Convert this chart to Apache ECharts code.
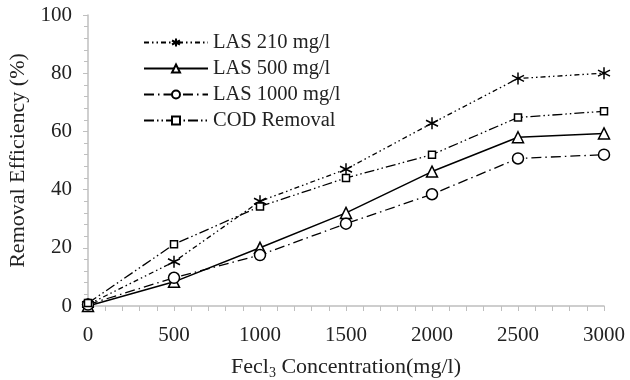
<!DOCTYPE html>
<html>
<head>
<meta charset="utf-8">
<script src="https://cdn.jsdelivr.net/npm/echarts@6/dist/echarts.min.js"></script>
<style>html,body{margin:0;padding:0;background:#fff}#c{width:630px;height:380px}</style>
</head>
<body>
<div id="c"></div>
<script>
const concentrations = [0, 500, 1000, 1500, 2000, 2500, 3000];
const seriesNames = ['LAS 210 mg/l', 'LAS 500 mg/l', 'LAS 1000 mg/l', 'COD Removal'];
const las210 = [0.5, 15.2, 36, 47, 62.8, 78.2, 80];
const las500 = [0, 8.3, 20, 32, 46.2, 58, 59.3];
const las1000 = [0.5, 9.7, 17.5, 28.3, 38.4, 50.7, 52];
const codRemoval = [1, 21.2, 34.2, 44, 52, 64.8, 66.9];
const xTicks = [0, 500, 1000, 1500, 2000, 2500, 3000];
const yTicks = [0, 20, 40, 60, 80, 100];

const font = 'Liberation Serif';
const asterisk = 'path://M0,-6L0,6M-5.2,-3L5.2,3M-5.2,3L5.2,-3';

function mk(name, data, symbol, size, dash, width) {
  return {
    name: name, type: 'line',
    data: concentrations.map((x, i) => [x, data[i]]),
    symbol: symbol, symbolSize: size,
    lineStyle: {color: '#000', width: width, type: dash},
    itemStyle: {color: '#fff', borderColor: '#000', borderWidth: 1.5},
    emphasis: {disabled: true}
  };
}

const chart = echarts.init(document.getElementById('c'));
chart.setOption({
  animation: false,
  backgroundColor: '#fff',
  textStyle: {fontFamily: font},
  grid: {left: 88, right: 26, top: 15, bottom: 74, containLabel: false, outerBoundsMode: 'none'},
  legend: {
    orient: 'vertical', left: 138, top: 26,
    itemWidth: 64, itemHeight: 10, itemGap: 3,
    textStyle: {fontFamily: font, fontSize: 20.5, color: '#222', lineHeight: 23},
    data: seriesNames
  },
  xAxis: {
    type: 'value', min: 0, max: 3000, interval: 500,
    name: 'Fecl{sub|3} Concentration(mg/l)', nameLocation: 'middle', nameGap: 48,
    nameTextStyle: {fontFamily: font, fontSize: 22, color: '#222',
      rich: {sub: {fontFamily: font, fontSize: 14, color: '#222', padding: [12, 0, 0, 0]}}},
    axisLine: {show: true, lineStyle: {color: '#bfbfbf', width: 1.5}},
    axisTick: {show: true, length: 5, lineStyle: {color: '#bfbfbf'}},
    minorTick: {show: true, splitNumber: 5, length: 5, lineStyle: {color: '#bfbfbf'}},
    axisLabel: {fontFamily: font, fontSize: 21, color: '#222', margin: 19,
      formatter: v => xTicks.includes(v) ? String(v) : ''},
    splitLine: {show: false}
  },
  yAxis: {
    type: 'value', min: 0, max: 100, interval: 20,
    name: 'Removal Efficiency (%)', nameLocation: 'middle', nameGap: 57,
    nameTextStyle: {fontFamily: font, fontSize: 22, color: '#222'},
    axisLine: {show: true, lineStyle: {color: '#bfbfbf', width: 1.5}},
    axisTick: {show: true, length: 5, lineStyle: {color: '#bfbfbf'}},
    minorTick: {show: true, splitNumber: 5, length: 4, lineStyle: {color: '#bfbfbf'}},
    axisLabel: {fontFamily: font, fontSize: 21, color: '#222', margin: 16,
      formatter: v => yTicks.includes(v) ? String(v) : ''},
    splitLine: {show: false}
  },
  series: [
    mk(seriesNames[0], las210, asterisk, 12, [5, 3, 1.5, 3, 1.5, 3], 1.3),
    mk(seriesNames[1], las500, 'triangle', 11, 'solid', 1.5),
    mk(seriesNames[2], las1000, 'circle', 11, [10, 4, 1.5, 4], 1.3),
    mk(seriesNames[3], codRemoval, 'rect', 7, [10, 3, 1.5, 3, 1.5, 3], 1.3)
  ]
});
</script>
</body>
</html>
